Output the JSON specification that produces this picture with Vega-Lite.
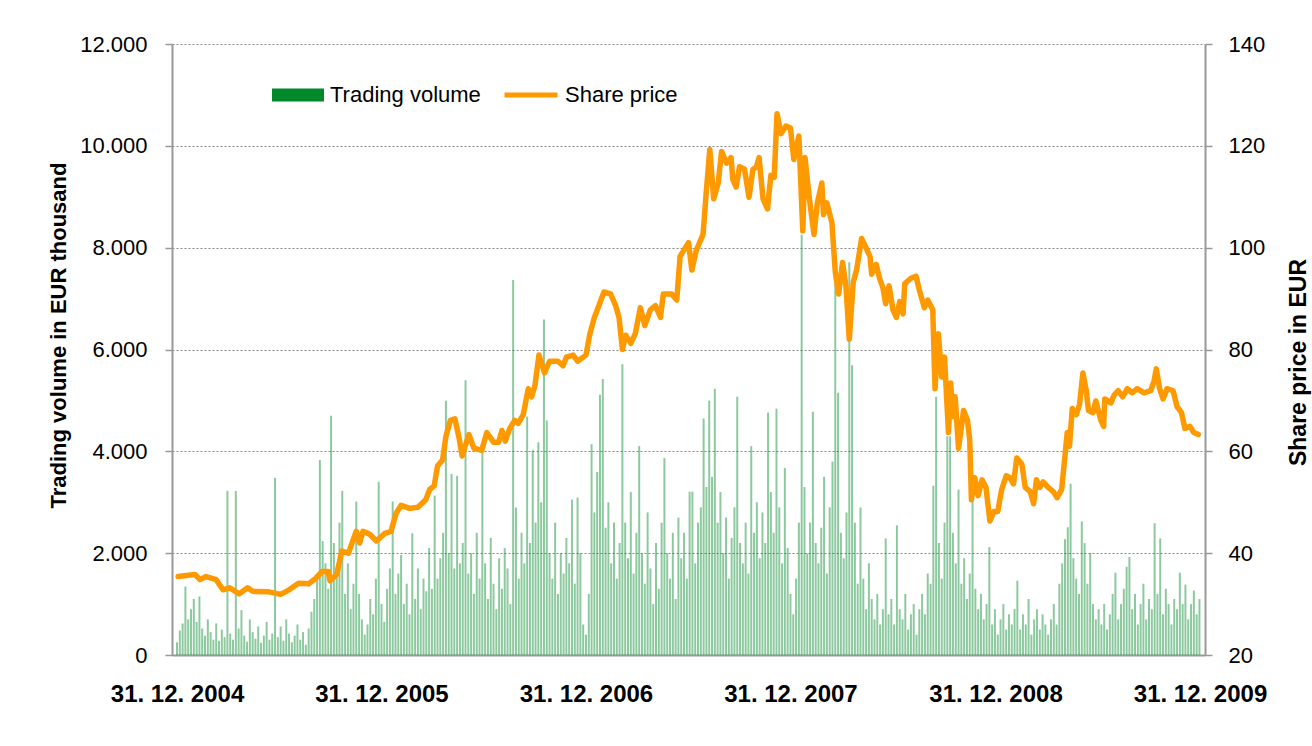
{
  "$schema": "https://vega.github.io/schema/vega-lite/v6.json",
  "autosize": "none",
  "width": 1033,
  "height": 611,
  "padding": {"left": 172, "top": 44, "right": 107, "bottom": 91},
  "background": "white",
  "config": {
    "view": {"stroke": null},
    "font": "Liberation Sans",
    "axis": {
      "domainColor": "#999999",
      "domainWidth": 2,
      "tickColor": "#999999",
      "tickWidth": 1.5,
      "labelColor": "black",
      "titleColor": "black"
    }
  },
  "datasets": {
    "vol": [
      {"t":0,"v":250},{"t":5,"v":480},{"t":10,"v":620},{"t":15,"v":1344},{"t":20,"v":700},{"t":25,"v":900},{"t":30,"v":1100},{"t":35,"v":650},{"t":40,"v":1150},{"t":45,"v":520},
      {"t":50,"v":380},{"t":55,"v":700},{"t":60,"v":450},{"t":65,"v":300},{"t":70,"v":620},{"t":75,"v":280},{"t":80,"v":500},{"t":85,"v":350},{"t":90,"v":3223},{"t":95,"v":420},
      {"t":100,"v":300},{"t":105,"v":3223},{"t":110,"v":520},{"t":115,"v":880},{"t":120,"v":380},{"t":125,"v":260},{"t":130,"v":700},{"t":135,"v":450},{"t":140,"v":320},{"t":145,"v":560},
      {"t":150,"v":240},{"t":155,"v":380},{"t":160,"v":650},{"t":165,"v":300},{"t":170,"v":420},{"t":175,"v":3480},{"t":180,"v":350},{"t":185,"v":560},{"t":190,"v":280},{"t":195,"v":700},
      {"t":200,"v":420},{"t":205,"v":250},{"t":210,"v":380},{"t":215,"v":600},{"t":220,"v":300},{"t":225,"v":450},{"t":230,"v":200},{"t":235,"v":520},{"t":240,"v":850},{"t":245,"v":1100},
      {"t":250,"v":1500},{"t":255,"v":3829},{"t":260,"v":2237},{"t":265,"v":1800},{"t":270,"v":1300},{"t":275,"v":4699},{"t":280,"v":2200},{"t":285,"v":1600},{"t":290,"v":2600},{"t":295,"v":3223},
      {"t":300,"v":1200},{"t":305,"v":1800},{"t":310,"v":900},{"t":315,"v":1400},{"t":320,"v":3014},{"t":325,"v":1200},{"t":330,"v":700},{"t":335,"v":400},{"t":340,"v":600},{"t":345,"v":1100},
      {"t":350,"v":800},{"t":355,"v":1500},{"t":360,"v":3402},{"t":365,"v":1000},{"t":370,"v":650},{"t":375,"v":1300},{"t":380,"v":1700},{"t":385,"v":3014},{"t":390,"v":1200},{"t":395,"v":1600},
      {"t":400,"v":1965},{"t":405,"v":1000},{"t":410,"v":1400},{"t":415,"v":800},{"t":420,"v":2392},{"t":425,"v":1100},{"t":430,"v":1700},{"t":435,"v":900},{"t":440,"v":1500},{"t":445,"v":1250},
      {"t":450,"v":2100},{"t":455,"v":1300},{"t":460,"v":3130},{"t":465,"v":1500},{"t":470,"v":1900},{"t":475,"v":2400},{"t":480,"v":4994},{"t":485,"v":2000},{"t":490,"v":3557},{"t":495,"v":1700},
      {"t":500,"v":3518},{"t":505,"v":1800},{"t":510,"v":2200},{"t":515,"v":5398},{"t":520,"v":1600},{"t":525,"v":2000},{"t":530,"v":1200},{"t":535,"v":2400},{"t":540,"v":1500},{"t":545,"v":4023},
      {"t":550,"v":1800},{"t":555,"v":1100},{"t":560,"v":2300},{"t":565,"v":1400},{"t":570,"v":900},{"t":575,"v":1900},{"t":580,"v":1300},{"t":585,"v":2100},{"t":590,"v":1700},{"t":595,"v":1000},
      {"t":600,"v":7363},{"t":605,"v":2897},{"t":610,"v":1500},{"t":615,"v":2400},{"t":620,"v":1800},{"t":625,"v":4683},{"t":630,"v":2200},{"t":635,"v":4023},{"t":640,"v":2600},{"t":645,"v":4178},
      {"t":650,"v":3000},{"t":655,"v":6587},{"t":660,"v":4606},{"t":665,"v":2000},{"t":670,"v":1500},{"t":675,"v":2600},{"t":680,"v":1200},{"t":685,"v":2000},{"t":690,"v":1600},{"t":695,"v":2300},
      {"t":700,"v":1800},{"t":705,"v":3052},{"t":710,"v":1400},{"t":715,"v":3091},{"t":720,"v":2000},{"t":725,"v":600},{"t":730,"v":400},{"t":735,"v":1200},{"t":740,"v":4140},{"t":745,"v":2800},
      {"t":750,"v":3596},{"t":755,"v":5111},{"t":760,"v":5422},{"t":765,"v":2500},{"t":770,"v":3000},{"t":775,"v":1800},{"t":780,"v":2600},{"t":785,"v":1500},{"t":790,"v":2200},{"t":795,"v":5709},
      {"t":800,"v":2600},{"t":805,"v":1900},{"t":810,"v":3200},{"t":815,"v":1600},{"t":820,"v":2400},{"t":825,"v":4101},{"t":830,"v":2000},{"t":835,"v":1400},{"t":840,"v":2800},{"t":845,"v":1700},
      {"t":850,"v":1000},{"t":855,"v":2200},{"t":860,"v":1300},{"t":865,"v":2600},{"t":870,"v":3868},{"t":875,"v":2000},{"t":880,"v":1500},{"t":885,"v":2400},{"t":890,"v":1100},{"t":895,"v":2700},
      {"t":900,"v":1900},{"t":905,"v":2400},{"t":910,"v":1500},{"t":915,"v":3208},{"t":920,"v":3208},{"t":925,"v":1800},{"t":930,"v":2600},{"t":935,"v":2900},{"t":940,"v":4645},{"t":945,"v":3300},
      {"t":950,"v":4994},{"t":955,"v":3500},{"t":960,"v":5227},{"t":965,"v":2600},{"t":970,"v":3200},{"t":975,"v":2000},{"t":980,"v":2700},{"t":985,"v":1500},{"t":990,"v":2300},{"t":995,"v":2900},
      {"t":1000,"v":5072},{"t":1005,"v":2200},{"t":1010,"v":1800},{"t":1015,"v":2600},{"t":1020,"v":1600},{"t":1025,"v":4101},{"t":1030,"v":2400},{"t":1035,"v":3000},{"t":1040,"v":1900},{"t":1045,"v":2800},
      {"t":1050,"v":2200},{"t":1055,"v":4761},{"t":1060,"v":3200},{"t":1065,"v":2400},{"t":1070,"v":4839},{"t":1075,"v":2900},{"t":1080,"v":1800},{"t":1085,"v":3674},{"t":1090,"v":2100},{"t":1095,"v":1200},
      {"t":1100,"v":800},{"t":1105,"v":1500},{"t":1110,"v":2600},{"t":1115,"v":8256},{"t":1120,"v":3300},{"t":1125,"v":2000},{"t":1130,"v":2600},{"t":1135,"v":4777},{"t":1140,"v":2200},{"t":1145,"v":1800},
      {"t":1150,"v":2500},{"t":1155,"v":3500},{"t":1160,"v":1600},{"t":1165,"v":2900},{"t":1170,"v":3800},{"t":1175,"v":7557},{"t":1180,"v":5150},{"t":1185,"v":2400},{"t":1190,"v":1900},{"t":1195,"v":2800},
      {"t":1200,"v":7713},{"t":1205,"v":5693},{"t":1210,"v":2600},{"t":1215,"v":1400},{"t":1220,"v":2897},{"t":1225,"v":1500},{"t":1230,"v":900},{"t":1235,"v":1800},{"t":1240,"v":1100},{"t":1245,"v":700},
      {"t":1250,"v":1200},{"t":1255,"v":600},{"t":1260,"v":900},{"t":1265,"v":2291},{"t":1270,"v":800},{"t":1275,"v":1100},{"t":1280,"v":600},{"t":1285,"v":2548},{"t":1290,"v":900},{"t":1295,"v":700},
      {"t":1300,"v":1200},{"t":1305,"v":500},{"t":1310,"v":800},{"t":1315,"v":1000},{"t":1320,"v":400},{"t":1325,"v":900},{"t":1330,"v":1200},{"t":1335,"v":800},{"t":1340,"v":1600},{"t":1345,"v":1400},
      {"t":1350,"v":3324},{"t":1355,"v":5072},{"t":1360,"v":2200},{"t":1365,"v":1500},{"t":1370,"v":2600},{"t":1375,"v":4295},{"t":1380,"v":4295},{"t":1385,"v":2400},{"t":1390,"v":1800},{"t":1395,"v":3247},
      {"t":1400,"v":1400},{"t":1405,"v":1900},{"t":1410,"v":1100},{"t":1415,"v":1600},{"t":1420,"v":3052},{"t":1425,"v":1300},{"t":1430,"v":900},{"t":1435,"v":1200},{"t":1440,"v":700},{"t":1445,"v":1000},
      {"t":1450,"v":2120},{"t":1455,"v":600},{"t":1460,"v":900},{"t":1465,"v":400},{"t":1470,"v":700},{"t":1475,"v":1000},{"t":1480,"v":500},{"t":1485,"v":800},{"t":1490,"v":600},{"t":1495,"v":900},
      {"t":1500,"v":1460},{"t":1505,"v":500},{"t":1510,"v":800},{"t":1515,"v":600},{"t":1520,"v":1100},{"t":1525,"v":400},{"t":1530,"v":700},{"t":1535,"v":900},{"t":1540,"v":500},{"t":1545,"v":800},
      {"t":1550,"v":600},{"t":1555,"v":400},{"t":1560,"v":700},{"t":1565,"v":1000},{"t":1570,"v":600},{"t":1575,"v":1400},{"t":1580,"v":1800},{"t":1585,"v":2276},{"t":1590,"v":2509},{"t":1595,"v":3363},
      {"t":1600,"v":1900},{"t":1605,"v":1500},{"t":1610,"v":1200},{"t":1615,"v":2625},{"t":1620,"v":2198},{"t":1625,"v":1400},{"t":1630,"v":2004},{"t":1635,"v":1000},{"t":1640,"v":700},{"t":1645,"v":900},
      {"t":1650,"v":600},{"t":1655,"v":1000},{"t":1660,"v":500},{"t":1665,"v":800},{"t":1670,"v":1200},{"t":1675,"v":1616},{"t":1680,"v":700},{"t":1685,"v":1000},{"t":1690,"v":1300},{"t":1695,"v":1732},
      {"t":1700,"v":1926},{"t":1705,"v":900},{"t":1710,"v":1200},{"t":1715,"v":600},{"t":1720,"v":1000},{"t":1725,"v":1400},{"t":1730,"v":700},{"t":1735,"v":1100},{"t":1740,"v":900},{"t":1745,"v":2586},
      {"t":1750,"v":1200},{"t":1755,"v":2291},{"t":1760,"v":800},{"t":1765,"v":1300},{"t":1770,"v":1000},{"t":1775,"v":600},{"t":1780,"v":1100},{"t":1785,"v":900},{"t":1790,"v":1616},{"t":1795,"v":1000},
      {"t":1800,"v":1383},{"t":1805,"v":700},{"t":1810,"v":1000},{"t":1815,"v":1266},{"t":1820,"v":800},{"t":1825,"v":1100}
    ],
    "price": [
      {"t":2,"p":35.4},{"t":32,"p":35.8},{"t":41,"p":34.8},{"t":52,"p":35.4},{"t":70,"p":34.8},{"t":82,"p":32.8},{"t":94,"p":33.2},{"t":111,"p":32.0},{"t":126,"p":33.2},{"t":135,"p":32.5},
      {"t":164,"p":32.4},{"t":185,"p":31.9},{"t":200,"p":32.8},{"t":217,"p":34.1},{"t":235,"p":34.0},{"t":247,"p":35.0},{"t":259,"p":36.4},{"t":270,"p":36.4},{"t":273,"p":34.6},{"t":285,"p":35.8},
      {"t":294,"p":40.4},{"t":306,"p":40.0},{"t":320,"p":44.3},{"t":326,"p":42.0},{"t":332,"p":44.3},{"t":344,"p":43.7},{"t":356,"p":42.4},{"t":371,"p":43.9},{"t":382,"p":44.3},{"t":391,"p":47.8},
      {"t":400,"p":49.4},{"t":415,"p":48.8},{"t":430,"p":49.0},{"t":444,"p":50.5},{"t":451,"p":52.5},{"t":459,"p":53.2},{"t":465,"p":57.1},{"t":474,"p":58.3},{"t":480,"p":62.9},{"t":488,"p":66.1},
      {"t":496,"p":66.4},{"t":503,"p":62.9},{"t":509,"p":59.1},{"t":521,"p":63.3},{"t":530,"p":60.6},{"t":544,"p":60.2},{"t":553,"p":63.7},{"t":565,"p":61.8},{"t":574,"p":61.8},{"t":580,"p":64.1},
      {"t":586,"p":62.0},{"t":594,"p":64.5},{"t":603,"p":66.1},{"t":609,"p":65.5},{"t":618,"p":67.2},{"t":627,"p":72.3},{"t":633,"p":70.7},{"t":639,"p":73.0},{"t":646,"p":78.9},{"t":656,"p":75.4},
      {"t":665,"p":77.7},{"t":680,"p":77.7},{"t":689,"p":76.8},{"t":695,"p":78.5},{"t":707,"p":78.9},{"t":715,"p":77.7},{"t":730,"p":78.9},{"t":737,"p":83.1},{"t":745,"p":86.3},{"t":753,"p":88.6},
      {"t":762,"p":91.3},{"t":774,"p":90.9},{"t":783,"p":88.6},{"t":789,"p":86.3},{"t":795,"p":80.0},{"t":801,"p":82.8},{"t":810,"p":81.2},{"t":818,"p":83.1},{"t":827,"p":88.2},{"t":835,"p":84.7},
      {"t":845,"p":87.8},{"t":854,"p":88.6},{"t":863,"p":86.3},{"t":868,"p":90.9},{"t":883,"p":90.9},{"t":892,"p":89.7},{"t":898,"p":98.3},{"t":913,"p":101.0},{"t":919,"p":95.6},{"t":927,"p":99.5},
      {"t":939,"p":102.6},{"t":944,"p":109.9},{"t":951,"p":119.3},{"t":958,"p":109.6},{"t":966,"p":112.7},{"t":972,"p":118.9},{"t":981,"p":116.6},{"t":989,"p":117.7},{"t":992,"p":113.4},{"t":998,"p":111.9},
      {"t":1004,"p":115.9},{"t":1013,"p":115.4},{"t":1021,"p":109.9},{"t":1028,"p":115.4},{"t":1034,"p":115.8},{"t":1039,"p":117.7},{"t":1046,"p":109.6},{"t":1054,"p":107.6},{"t":1060,"p":114.2},{"t":1066,"p":113.8},
      {"t":1071,"p":126.3},{"t":1078,"p":122.4},{"t":1087,"p":123.9},{"t":1095,"p":123.5},{"t":1101,"p":117.3},{"t":1110,"p":121.9},{"t":1117,"p":103.3},{"t":1121,"p":117.7},{"t":1128,"p":110.3},{"t":1137,"p":102.6},
      {"t":1143,"p":108.8},{"t":1151,"p":112.7},{"t":1154,"p":106.5},{"t":1160,"p":108.8},{"t":1169,"p":104.9},{"t":1175,"p":95.2},{"t":1181,"p":90.9},{"t":1188,"p":97.1},{"t":1194,"p":92.5},{"t":1200,"p":82.0},
      {"t":1207,"p":93.2},{"t":1213,"p":95.6},{"t":1222,"p":101.8},{"t":1237,"p":98.3},{"t":1240,"p":94.8},{"t":1248,"p":96.7},{"t":1254,"p":94.0},{"t":1260,"p":92.1},{"t":1265,"p":89.0},{"t":1271,"p":92.5},
      {"t":1278,"p":87.8},{"t":1284,"p":86.3},{"t":1290,"p":89.4},{"t":1296,"p":87.0},{"t":1299,"p":92.9},{"t":1310,"p":94.0},{"t":1319,"p":94.4},{"t":1325,"p":91.7},{"t":1334,"p":88.2},{"t":1340,"p":89.7},
      {"t":1349,"p":87.8},{"t":1353,"p":72.3},{"t":1359,"p":83.1},{"t":1365,"p":74.6},{"t":1370,"p":78.5},{"t":1377,"p":63.7},{"t":1381,"p":73.4},{"t":1385,"p":66.8},{"t":1389,"p":70.7},{"t":1395,"p":60.6},
      {"t":1404,"p":68.0},{"t":1411,"p":66.1},{"t":1415,"p":62.2},{"t":1418,"p":50.5},{"t":1424,"p":54.8},{"t":1430,"p":51.3},{"t":1437,"p":54.4},{"t":1444,"p":52.9},{"t":1451,"p":46.3},{"t":1458,"p":48.2},
      {"t":1465,"p":48.2},{"t":1472,"p":52.5},{"t":1480,"p":55.2},{"t":1487,"p":54.8},{"t":1493,"p":53.6},{"t":1499,"p":58.7},{"t":1508,"p":57.5},{"t":1514,"p":52.9},{"t":1523,"p":52.1},{"t":1529,"p":49.7},
      {"t":1534,"p":54.4},{"t":1540,"p":52.9},{"t":1546,"p":54.0},{"t":1555,"p":52.9},{"t":1564,"p":52.1},{"t":1571,"p":50.9},{"t":1579,"p":52.5},{"t":1585,"p":59.1},{"t":1589,"p":63.7},{"t":1593,"p":61.0},
      {"t":1598,"p":68.4},{"t":1605,"p":67.2},{"t":1611,"p":69.2},{"t":1617,"p":75.4},{"t":1623,"p":71.9},{"t":1627,"p":68.0},{"t":1635,"p":67.6},{"t":1640,"p":69.9},{"t":1649,"p":66.1},{"t":1654,"p":64.9},
      {"t":1656,"p":70.3},{"t":1667,"p":69.5},{"t":1673,"p":71.1},{"t":1680,"p":71.9},{"t":1688,"p":70.7},{"t":1696,"p":72.3},{"t":1705,"p":71.5},{"t":1714,"p":72.3},{"t":1726,"p":71.5},{"t":1738,"p":71.9},
      {"t":1744,"p":73.8},{"t":1748,"p":76.2},{"t":1754,"p":72.3},{"t":1760,"p":70.3},{"t":1767,"p":72.3},{"t":1778,"p":71.9},{"t":1785,"p":68.8},{"t":1793,"p":67.6},{"t":1799,"p":64.5},{"t":1808,"p":64.9},
      {"t":1815,"p":63.7},{"t":1823,"p":63.3}
    ]
  },
  "layer": [
    {
      "data": {"name": "vol"},
      "mark": {"type": "bar", "size": 2, "opacity": 0.45},
      "encoding": {
        "x": {
          "field": "t", "type": "quantitative",
          "scale": {"domain": [0, 1826], "nice": false, "zero": false},
          "axis": {
            "title": null,
            "values": [0, 365, 730, 1095, 1461, 1826],
            "labelExpr": "'31. 12. ' + (2004 + round(datum.value / 365.25))",
            "grid": false,
            "ticks": false,
            "labelPadding": 27,
            "labelFont": "Liberation Sans",
            "labelFontWeight": "bold",
            "labelFontSize": 24,
            "labelOverlap": false,
            "labelFlush": false,
            "labelBound": false
          }
        },
        "y": {
          "field": "v", "type": "quantitative",
          "scale": {"domain": [0, 12000], "nice": false},
          "axis": {
            "orient": "left",
            "title": "Trading volume in EUR thousand",
            "values": [0, 2000, 4000, 6000, 8000, 10000, 12000],
            "labelExpr": "replace(format(datum.value, ','), ',', '.')",
            "grid": true,
            "gridColor": "#888888",
            "gridDash": [2, 2],
            "gridWidth": 1.2,
            "tickSize": 7,
            "labelPadding": 18,
            "labelFontSize": 22,
            "labelFont": "Liberation Sans",
            "titleFont": "Liberation Sans",
            "titleFontWeight": "bold",
            "titleFontSize": 22,
            "titleAngle": 270,
            "titleAlign": "center",
            "titleBaseline": "middle",
            "titleX": -114,
            "titleY": 291
          }
        },
        "color": {
          "datum": "Trading volume",
          "scale": {"range": ["#00882b"]},
          "legend": {
            "title": null,
            "orient": "none",
            "legendX": 100,
            "legendY": 25,
            "symbolType": "M-1,-0.25H1V0.25H-1Z",
            "symbolSize": 2704,
            "symbolOpacity": 1,
            "symbolStrokeWidth": 0,
            "labelFont": "Liberation Sans",
            "labelFontSize": 22,
            "labelColor": "black",
            "labelOffset": 6
          }
        }
      }
    },
    {
      "data": {"name": "price"},
      "mark": {"type": "line", "strokeWidth": 5.5, "strokeJoin": "round", "strokeCap": "round"},
      "encoding": {
        "x": {"field": "t", "type": "quantitative"},
        "y": {
          "field": "p", "type": "quantitative",
          "scale": {"domain": [20, 140], "nice": false, "zero": false},
          "axis": {
            "orient": "right",
            "title": "Share price in EUR",
            "values": [20, 40, 60, 80, 100, 120, 140],
            "grid": false,
            "tickSize": 7,
            "labelPadding": 16,
            "labelFontSize": 22,
            "labelFont": "Liberation Sans",
            "titleFont": "Liberation Sans",
            "titleFontWeight": "bold",
            "titleFontSize": 23,
            "titleAngle": 270,
            "titleAlign": "center",
            "titleBaseline": "middle",
            "titleX": 93,
            "titleY": 318
          }
        },
        "stroke": {
          "datum": "Share price",
          "scale": {"range": ["#ff9900"]},
          "legend": {
            "title": null,
            "orient": "none",
            "legendX": 330,
            "legendY": 22,
            "symbolType": "stroke",
            "symbolSize": 2809,
            "symbolStrokeWidth": 5,
            "labelFont": "Liberation Sans",
            "labelFontSize": 22,
            "labelColor": "black",
            "labelOffset": 5
          }
        }
      }
    }
  ],
  "resolve": {"scale": {"y": "independent"}}
}
